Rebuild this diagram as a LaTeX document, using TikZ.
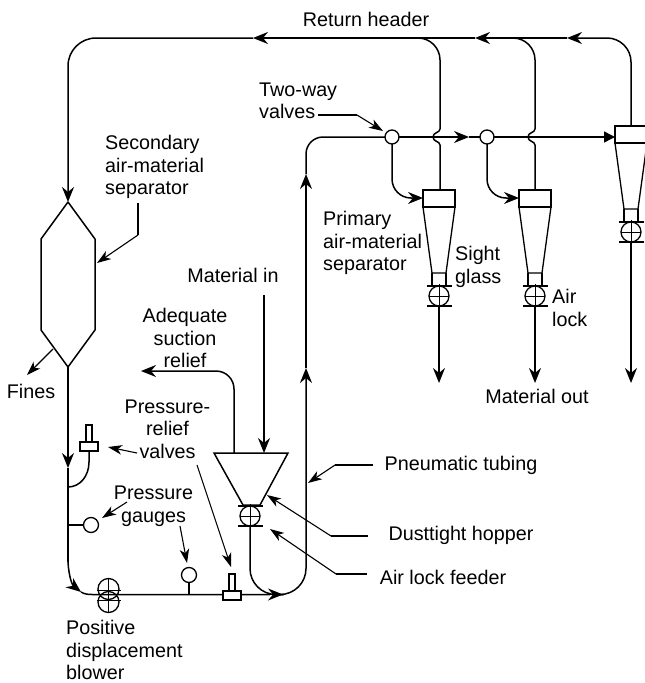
\documentclass[tikz,border=0pt]{standalone}
\usepackage{fontspec}
\setmainfont{Liberation Sans}
\usetikzlibrary{arrows.meta}
\tikzset{
  x=1pt,y=-1pt,
  pipe/.style={line width=1.5pt,line join=round},
  thin part/.style={line width=1.3pt,line join=miter},
  leadline/.style={line width=1.1pt},
  leader/.style={line width=1.1pt,-{Stealth[length=14pt,width=9.5pt,inset=4pt]}},
  flow/.style={pipe,-{Stealth[length=15pt,width=12pt,inset=5pt]}},
  solidtip/.style={pipe,-{Triangle[length=11pt,width=11pt]}},
  lab/.style={inner sep=0pt,font=\fontsize{19.75}{22.5}\selectfont},
  labl/.style={lab,align=left,anchor=west},
  labc/.style={lab,align=center},
  ring/.style={circle,draw,line width=1.3pt,fill=white,minimum size=#1,inner sep=0pt},
}
% rotary valve: two bars and a crossed circle
\newcommand{\rotary}[2]{%
  \draw[thin part] (#1-12,#2-10)--(#1+13,#2-10) (#1-12,#2+10)--(#1+13,#2+10);
  \draw[thin part] (#1,#2) circle (10);
  \draw[line width=0.9pt] (#1-10,#2)--(#1+10,#2) (#1,#2-12)--(#1,#2+10);
}
% primary cyclone, top-left corner of the head at (#1,#2)
\newcommand{\cyclone}[2]{%
  \draw[thin part] (#1,#2) rectangle (#1+32,#2+17);
  \draw[thin part] (#1,#2+17)--(#1+9,#2+83)--(#1+23,#2+83)--(#1+32,#2+17);
  \draw[thin part] (#1+9,#2+83)--(#1+9,#2+97) (#1+23,#2+83)--(#1+23,#2+97);
  \rotary{#1+16}{#2+106}
}
\newcommand{\reliefv}[2]{%
  \draw[thin part,fill=white] (#1-3,#2)rectangle(#1+3,#2+17);
  \draw[thin part,fill=white] (#1-9,#2+17)rectangle(#1+9,#2+26);
}
\begin{document}
\begin{tikzpicture}
\path[use as bounding box,clip] (0,0) rectangle (645,683);

% return header
\coordinate (hdrR) at (631,126);
\coordinate (a1) at (567,38);
\coordinate (a2) at (475,38);
\coordinate (a3) at (253,38);
\coordinate (hexT) at (68,202);
\coordinate (hexB) at (68,367);
\draw[flow,rounded corners=24] (hdrR)--(631,38)--(a1);
\draw[flow] (a1)--(a2);
\draw[flow] (a2)--(a3);
\draw[flow,rounded corners=28] (a3)--(68,38)--(hexT);
% returns from cyclones with hops
\draw[pipe,rounded corners=22] (405,38)--(440,38)--(440,129);
\draw[pipe] (440,129) .. controls (440,133) and (433,132) .. (433,137) .. controls (433,142) and (440,141) .. (440,145)--(440,190);
\draw[pipe,rounded corners=22] (500,38)--(535,38)--(535,129);
\draw[pipe] (535,129) .. controls (535,133) and (528,132) .. (528,137) .. controls (528,142) and (535,141) .. (535,145)--(535,190);

% secondary separator
\draw[pipe] (hexT)--(95,239)--(95,330)--(hexB)--(41,330)--(41,239)--cycle;
\draw[leader] (53,349)--(27,375);

% left line down
\coordinate (l1) at (68,468);
\draw[flow] (hexB)--(l1);
\draw[pipe] (l1)--(68,562);
\coordinate (c1) at (81,592);
\draw[flow] (68,560) .. controls (68,570) and (71,584) .. (c1);
\draw[pipe] (c1) .. controls (84,594) and (88,594.5) .. (92,594.5)--(270,594.5);
% riser
\coordinate (tipB) at (283,594.5);
\coordinate (up1) at (306,368);
\coordinate (up2) at (306,174);
\draw[flow] (262,594.5)--(tipB);
\draw[flow,rounded corners=26] (tipB)--(306,594.5)--(up1);
\draw[flow] (up1)--(up2);
\coordinate (tv1) at (392,137);
\coordinate (tv2) at (487,137);
\coordinate (c3) at (615,137);
\draw[pipe,rounded corners=17] (up2)--(306,137)--(tv1);
\draw[flow] (tv1)--(469,137);
\draw[pipe] (469,137)--(tv2);
\draw[solidtip] (tv2)--(c3);
% branches to cyclones
\draw[flow,rounded corners=19] (tv1)--(392,198)--(423,198);
\draw[flow,rounded corners=19] (tv2)--(487,198)--(519,198);
\node[ring=14pt] at (tv1) {};
\node[ring=14pt] at (tv2) {};

% cyclones
\cyclone{423}{190}
\cyclone{519}{190}
\cyclone{615}{126}
\draw[flow] (439,306)--(439,383);
\draw[flow] (535,306)--(535,383);
\draw[flow] (631,242)--(631,383);

% hopper and feeder
\draw[line width=1.5pt] (214,453)--(288,453)--(260,505)--(243,505)--cycle;
\rotary{250}{516}
\draw[flow] (264,295)--(264,453);
\draw[flow,rounded corners=18] (234,453)--(234,371)--(141,371);
\draw[pipe,rounded corners=26] (250,526)--(250,594.5)--(284,594.5);

% relief valve and gauges on left line
\draw[pipe] (89,450)--(89,462) .. controls (89,476) and (80,487) .. (68,487);
\reliefv{89}{425}
\draw[pipe] (68,525)--(84,525);
\node[ring=15pt] (g1) at (91,525) {};
\draw[pipe] (189,582)--(189,594);
\node[ring=15pt] (g2) at (189,575) {};
\reliefv{232}{574}

% blower
\draw[thin part] (108.5,589) circle (10.5) (108.5,602) circle (10.5);
\draw[line width=0.9pt] (108.5,578)--(108.5,612) (97,590)--(121,590);
\draw[line width=0.9pt] (97,600)--(121,600);

% leaders
\draw[leadline] (318,115)--(357,115);
\draw[leader] (357,115)--(383,131);
\draw[leadline] (138,203)--(138,235);
\draw[leader] (138,235)--(97,263);
\draw[leader] (137,453)--(108,447);
\draw[leader] (197,465)--(231,567);
\draw[leader] (127,502)--(102,518);
\draw[leader] (180,526)--(187,563);
\draw[leadline] (373,465)--(335,465);
\draw[leader] (335,465)--(308,483);
\draw[leadline] (368,536)--(331,536);
\draw[leader] (331,536)--(267,495);
\draw[leadline] (367,574)--(336,574);
\draw[leader] (336,574)--(270,529);

% labels
\node[labc] (t1) at (366,19) {Return header};
\node[labl] (t2) at (259,101) {Two-way\\valves};
\node[labl] (t3) at (105,167) {Secondary\\air-material\\separator};
\node[labc] (t4) at (233,275) {Material in};
\node[labc] (t5) at (185,338) {Adequate\\suction\\relief};
\node[labc] (t6) at (167.5,429) {Pressure-\\relief\\valves};
\node[labc] (t7) at (153.5,506) {Pressure\\gauges};
\node[labl] (t8) at (323,243) {Primary\\air-material\\separator};
\node[labl] (t9) at (455,267) {Sight\\glass};
\node[labl] (t10) at (552,308) {Air\\lock};
\node[labc] (t11) at (537,396) {Material out};
\node[labc] (t12) at (461,465) {Pneumatic tubing};
\node[labc] (t13) at (461,535) {Dusttight hopper};
\node[labc] (t14) at (443,577) {Air lock feeder};
\node[labl] (t15) at (66,650) {Positive\\displacement\\blower};
\node[labc] (t16) at (31,391) {Fines};
\end{tikzpicture}
\end{document}
